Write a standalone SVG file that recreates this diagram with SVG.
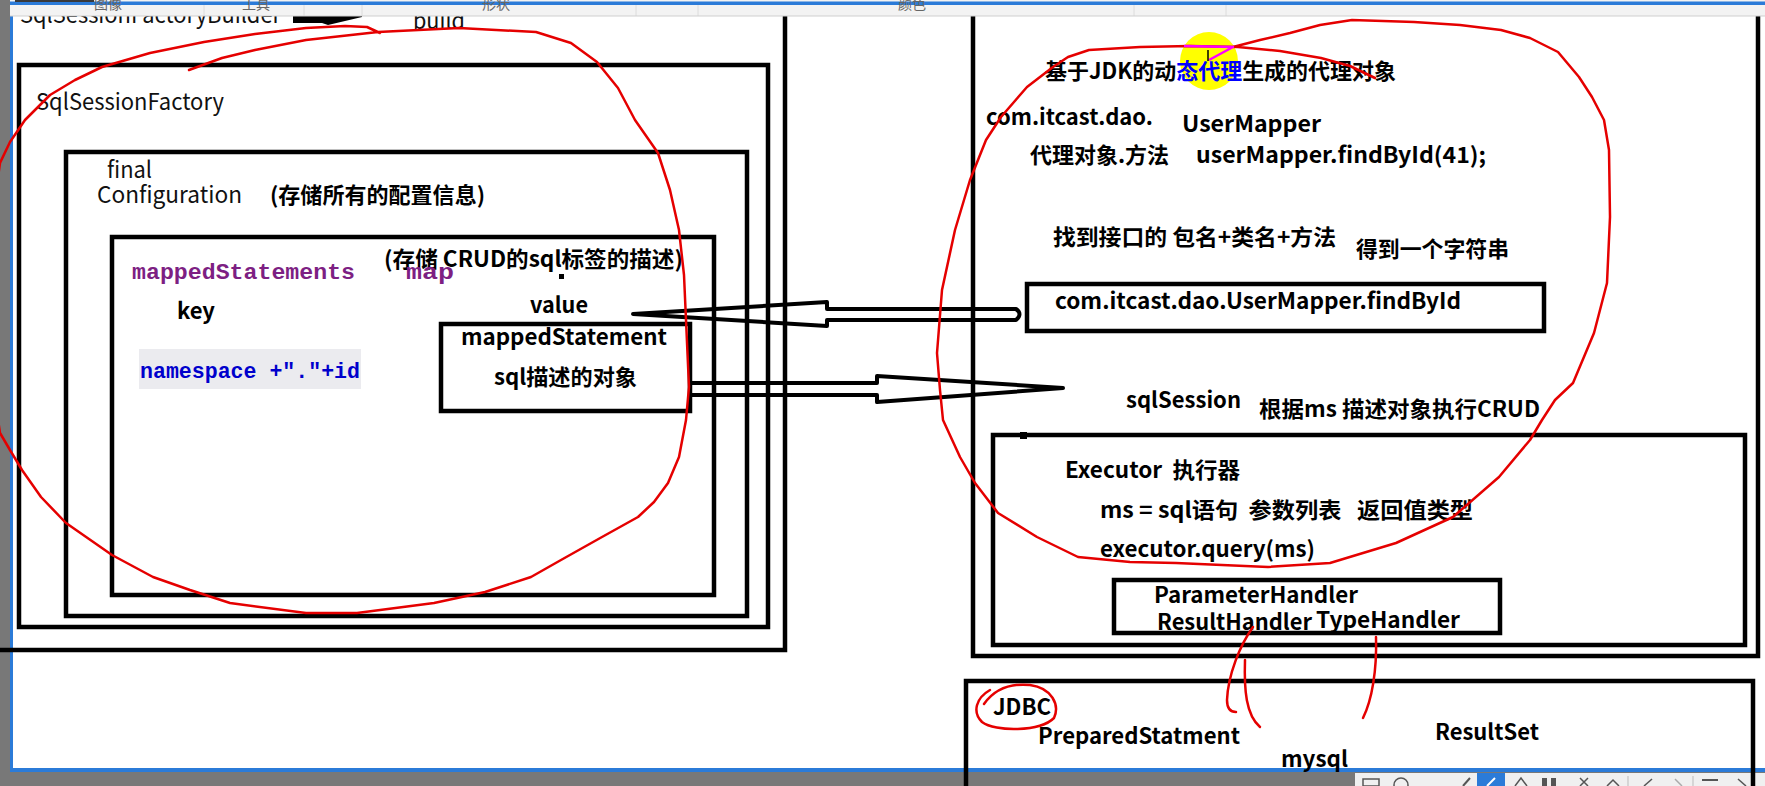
<svg xmlns="http://www.w3.org/2000/svg" width="1765" height="786" viewBox="0 0 1765 786">
<style>
.box{fill:none;stroke:#000;stroke-width:4.5}
.t{font-family:"Noto Sans CJK SC","Noto Sans",sans-serif;font-size:22px;font-weight:700;fill:#000}
.tl{font-family:"Noto Sans CJK SC","Noto Sans",sans-serif;font-size:23px;font-weight:400;fill:#111}
.mono{font-family:"Liberation Mono","DejaVu Sans Mono",monospace;font-size:22px;font-weight:700}
.red{fill:none;stroke:#e50000;stroke-width:2.5;stroke-linecap:round;stroke-linejoin:round}
.arrow{fill:none;stroke:#000;stroke-width:4;stroke-linejoin:round}
.tab{font-family:"Noto Sans CJK SC",sans-serif;font-size:14px;fill:#666}
</style>
<rect width="1765" height="786" fill="#fff"/>
<g id="chrome-left">
<rect x="0" y="0" width="10" height="786" fill="#787878"/>
<rect x="10" y="2" width="3" height="770" fill="#2b7bd8"/>
</g>
<g id="chrome-bottom">
<rect x="0" y="772" width="1765" height="14" fill="#787878"/>
<rect x="10" y="768" width="1755" height="4" fill="#2b7bd8"/>
<rect x="1355" y="773" width="410" height="13" fill="#f0f0f0"/>
<rect x="1477" y="773" width="28" height="13" fill="#2b7bd8"/>
<rect x="1363" y="779" width="16" height="7" fill="none" stroke="#555" stroke-width="1.5"/>
<circle cx="1401" cy="785" r="7" fill="none" stroke="#555" stroke-width="1.5"/>
<path d="M1463,786 L1470,778" stroke="#555" stroke-width="2"/>
<path d="M1487,786 L1495,778" stroke="#fff" stroke-width="2"/>
<path d="M1515,786 L1521,778 L1527,786" fill="none" stroke="#555" stroke-width="1.5"/>
<rect x="1542" y="778" width="5" height="8" fill="#555"/><rect x="1551" y="778" width="5" height="8" fill="#555"/>
<path d="M1580,778 L1588,786 M1588,778 L1580,786" stroke="#555" stroke-width="1.5"/>
<path d="M1607,786 L1613,780 L1619,786" fill="none" stroke="#555" stroke-width="1.5"/>
<path d="M1628,776 L1628,786 M1693,776 L1693,786" stroke="#bbb" stroke-width="1"/>
<path d="M1652,779 L1644,786" stroke="#555" stroke-width="1.5"/>
<path d="M1675,779 L1682,786" stroke="#aaa" stroke-width="1.5"/>
<path d="M1702,780 L1718,780" stroke="#555" stroke-width="2"/>
<path d="M1738,779 L1746,786" stroke="#555" stroke-width="1.5"/>
</g>
<g id="builder">
<rect class="box" x="-10" y="-10" width="795" height="660"/>
<text class="tl" x="20" y="23" textLength="261" lengthAdjust="spacingAndGlyphs">SqlSessionFactoryBuilder</text>
<polygon points="293,10 293,23 322,23 328,25 362,17 362,10" fill="#000"/>
<text class="tl" x="413" y="29" textLength="52" lengthAdjust="spacingAndGlyphs">build</text>
</g>
<g id="sqlSessionFactory">
<rect class="box" x="19" y="65" width="749" height="562"/>
<text class="tl" x="36" y="110" font-size="21" textLength="188" lengthAdjust="spacingAndGlyphs">SqlSessionFactory</text>
</g>
<g id="configuration">
<rect class="box" x="66" y="152" width="681" height="464"/>
<text class="tl" x="107" y="178" textLength="45" lengthAdjust="spacingAndGlyphs">final</text>
<text class="tl" x="97" y="203" textLength="145" lengthAdjust="spacingAndGlyphs">Configuration</text>
<text class="t" x="270" y="203" textLength="215" lengthAdjust="spacingAndGlyphs">(存储所有的配置信息)</text>
</g>
<g id="mappedStatements">
<rect class="box" x="112" y="237" width="602" height="358"/>
<text class="t" x="384" y="267" textLength="299" lengthAdjust="spacingAndGlyphs">(存储 CRUD的sql标签的描述)</text>
<text class="mono" x="132" y="279" fill="#7d1f83" textLength="223" lengthAdjust="spacingAndGlyphs">mappedStatements</text>
<text class="mono" x="406" y="279" fill="#7d1f83" textLength="48" lengthAdjust="spacingAndGlyphs">map</text>
<rect x="559" y="274" width="5" height="5" fill="#000"/>
<text class="t" x="177" y="319" textLength="38" lengthAdjust="spacingAndGlyphs">key</text>
<text class="t" x="530" y="313" textLength="58" lengthAdjust="spacingAndGlyphs">value</text>
<rect x="139" y="349" width="222" height="40" fill="#ebebef"/>
<text class="mono" x="140" y="378" fill="#0000cc" textLength="220" lengthAdjust="spacingAndGlyphs">namespace +"."+id</text>
</g>
<g id="mappedStatement">
<rect class="box" x="441" y="324" width="249" height="87"/>
<text class="t" x="461" y="345" textLength="206" lengthAdjust="spacingAndGlyphs">mappedStatement</text>
<text class="t" x="494" y="385" textLength="143" lengthAdjust="spacingAndGlyphs">sql描述的对象</text>
</g>
<g id="proxy">
<rect class="box" x="973" y="-10" width="785" height="666"/>
<ellipse cx="1209" cy="61" rx="29" ry="29" fill="#ffff00"/>
<text class="t" x="1045" y="79" textLength="351" lengthAdjust="spacingAndGlyphs">基于JDK的动<tspan fill="#0000ff">态代理</tspan>生成的代理对象</text>
<text class="t" x="986" y="125" textLength="167" lengthAdjust="spacingAndGlyphs">com.itcast.dao.</text>
<text class="t" x="1182" y="132" textLength="139" lengthAdjust="spacingAndGlyphs">UserMapper</text>
<text class="t" x="1030" y="163" textLength="139" lengthAdjust="spacingAndGlyphs">代理对象.方法</text>
<text class="t" x="1196" y="163" textLength="290" lengthAdjust="spacingAndGlyphs">userMapper.findById(41);</text>
<text class="t" x="1053" y="245" textLength="283" lengthAdjust="spacingAndGlyphs">找到接口的 包名+类名+方法</text>
<text class="t" x="1356" y="257" textLength="153" lengthAdjust="spacingAndGlyphs">得到一个字符串</text>
<text class="t" x="1126" y="408" textLength="115" lengthAdjust="spacingAndGlyphs">sqlSession</text>
<text class="t" x="1259" y="417" textLength="281" lengthAdjust="spacingAndGlyphs">根据ms 描述对象执行CRUD</text>
</g>
<g id="statementId">
<rect class="box" x="1027" y="284" width="517" height="47"/>
<text class="t" x="1055" y="309" textLength="406" lengthAdjust="spacingAndGlyphs">com.itcast.dao.UserMapper.findById</text>
</g>
<g id="executor">
<rect class="box" x="993" y="435" width="752" height="210"/>
<rect x="1020" y="432" width="7" height="7" fill="#000"/>
<text class="t" x="1065" y="478" xml:space="preserve" style="white-space:pre" textLength="175" lengthAdjust="spacingAndGlyphs">Executor  执行器</text>
<text class="t" x="1100" y="518" xml:space="preserve" style="white-space:pre" textLength="373" lengthAdjust="spacingAndGlyphs">ms = sql语句  参数列表   返回值类型</text>
<text class="t" x="1100" y="557" textLength="215" lengthAdjust="spacingAndGlyphs">executor.query(ms)</text>
</g>
<g id="handlers">
<rect class="box" x="1114" y="580" width="386" height="53"/>
<text class="t" x="1154" y="603" textLength="204" lengthAdjust="spacingAndGlyphs">ParameterHandler</text>
<text class="t" x="1157" y="630" textLength="155" lengthAdjust="spacingAndGlyphs">ResultHandler</text>
<text class="t" x="1316" y="628" textLength="144" lengthAdjust="spacingAndGlyphs">TypeHandler</text>
</g>
<g id="jdbc">
<rect class="box" x="966" y="681" width="787" height="130"/>
<text class="t" x="993" y="715" textLength="58" lengthAdjust="spacingAndGlyphs">JDBC</text>
<text class="t" x="1038" y="744" textLength="202" lengthAdjust="spacingAndGlyphs">PreparedStatment</text>
<text class="t" x="1435" y="740" textLength="104" lengthAdjust="spacingAndGlyphs">ResultSet</text>
<text class="t" x="1281" y="767" textLength="67" lengthAdjust="spacingAndGlyphs">mysql</text>
</g>
<g id="connectors">
<path class="arrow" d="M633,314 L827,302 L827,309 L1016,309 Q1023,314 1016,320 L827,320 L827,326 Z"/>
<path class="arrow" d="M692,383 L877,383 L877,376 L1063,388 L877,402 L877,395 L692,395"/>
</g>
<g id="annotations">
<polyline class="red" points="189,70 222,58 255,50 306,40 378,32 459,28 536,32 571,43 597,62 618,88 635,120 658,153 670,190 679,230 684,275 686,320 689,387 686,420 679,457 668,483 654,502 638,517 602,537 561,560 531,577 485,592 434,603 357,613 306,613 230,603 190,590 153,577 112,555 66,523 41,497 22,470 10,450 0,433 -8,380 -12,300 -8,220 0,163 10,142 25,120 50,95 75,80 102,67 150,53 204,42 255,34 306,28 345,26 367,27 380,33"/>
<polyline class="red" points="1375,78 1350,66 1321,58 1280,51 1238,47 1190,46 1140,47 1089,50 1068,57 1053,67 1027,87 1001,117 986,140 970,180 955,230 942,290 937,353 940,390 943,420 960,457 975,483 998,513 1037,537 1078,557 1130,562 1176,563 1268,567 1330,563 1396,543 1453,517 1499,477 1530,440 1542,420 1555,400 1573,383 1594,333 1607,283 1610,217 1609,150 1604,120 1592,97 1579,77 1558,52 1530,38 1501,30 1460,25 1414,22 1352,20 1320,25 1290,33 1260,40 1233,47"/>
<path d="M1184,46 L1233,47 L1209,60" fill="none" stroke="#ff00ff" stroke-width="2.5" stroke-linejoin="round"/>
<path d="M1208,50 L1208,61" stroke="#000" stroke-width="1.5"/>
<path class="red" d="M1253,627 C1240,645 1228,675 1227,700 C1227,710 1232,712 1236,712"/>
<path class="red" d="M1245,660 C1244,690 1246,715 1260,727"/>
<path class="red" d="M1376,637 C1377,670 1372,700 1363,718"/>
<path class="red" d="M990,690 C976,698 972,712 982,722 C995,732 1040,732 1054,718 C1060,705 1052,688 1030,685 C1010,683 994,690 984,704"/>
</g>
<g id="chrome-top">
<rect x="10" y="0" width="1755" height="16" fill="#f3f3f3"/>
<rect x="10" y="1.5" width="1755" height="3.5" fill="#2b7bd8"/>
<rect x="15" y="0" width="79" height="2" fill="#3a3a3a"/>
<path d="M204,5 V16 M304,5 V16 M362,5 V16 M636,5 V16 M698,5 V16 M1134,5 V16 M1226,5 V16" stroke="#dcdcdc" stroke-width="1"/>
<rect x="10" y="15.5" width="1755" height="1" fill="#cfcfcf"/>
<text class="tab" x="94" y="9">图像</text>
<text class="tab" x="242" y="9">工具</text>
<text class="tab" x="482" y="9">形状</text>
<text class="tab" x="898" y="9">颜色</text>
</g>
</svg>
